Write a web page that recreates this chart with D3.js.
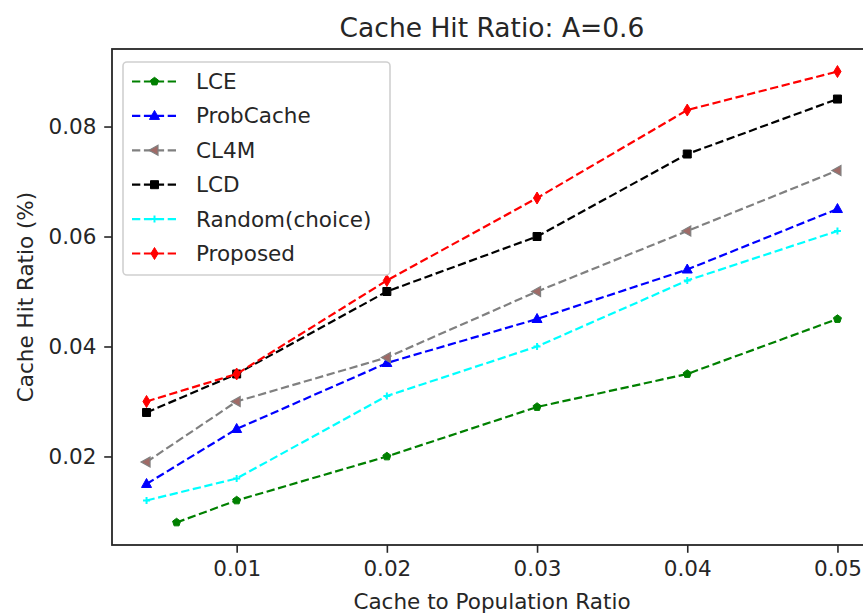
<!DOCTYPE html>
<html>
<head>
<meta charset="utf-8">
<script src="https://cdn.jsdelivr.net/npm/d3@7"></script>
<style>
  body { margin: 0; background: #fff; overflow: hidden; }
  text { font-family: "DejaVu Sans", sans-serif; fill: #262626; }
</style>
</head>
<body>
<div id="chart"></div>
<script>
// data
const xFull = [0.004, 0.01, 0.02, 0.03, 0.04, 0.05];
const xLCE = [0.006, 0.01, 0.02, 0.03, 0.04, 0.05];
const lce = [0.008, 0.012, 0.020, 0.029, 0.035, 0.045];
const probCache = [0.015, 0.025, 0.037, 0.045, 0.054, 0.065];
const cl4m = [0.019, 0.030, 0.038, 0.050, 0.061, 0.072];
const lcd = [0.028, 0.035, 0.050, 0.060, 0.075, 0.085];
const randomChoice = [0.012, 0.016, 0.031, 0.040, 0.052, 0.061];
const proposed = [0.030, 0.035, 0.052, 0.067, 0.083, 0.090];
const xTicks = [0.01, 0.02, 0.03, 0.04, 0.05];
const yTicks = [0.02, 0.04, 0.06, 0.08];

const series = [
  { name: "LCE", xs: xLCE, ys: lce, color: "#008000", marker: "pentagon" },
  { name: "ProbCache", xs: xFull, ys: probCache, color: "#0000ff", marker: "triUp" },
  { name: "CL4M", xs: xFull, ys: cl4m, color: "#808080", marker: "triLeft" },
  { name: "LCD", xs: xFull, ys: lcd, color: "#000000", marker: "square" },
  { name: "Random(choice)", xs: xFull, ys: randomChoice, color: "#00ffff", marker: "plus" },
  { name: "Proposed", xs: xFull, ys: proposed, color: "#ff0000", marker: "thinDiamond" }
];

const width = 863, height = 614;
const plot = { left: 112, right: 872, top: 49, bottom: 545 };

// matplotlib-like 5% margins
function padded(vals) {
  const [a, b] = d3.extent(vals);
  const p = (b - a) * 0.05;
  return [a - p, b + p];
}
const allX = series.flatMap(s => s.xs);
const allY = series.flatMap(s => s.ys);

const x = d3.scaleLinear().domain(padded(allX)).range([plot.left, plot.right]);
const y = d3.scaleLinear().domain(padded(allY)).range([plot.bottom, plot.top]);

const svg = d3.select("#chart").append("svg")
  .attr("width", width)
  .attr("height", height);

// marker shapes
function markerPath(type) {
  const p = d3.path();
  if (type === "pentagon") {
    const r = 4.2;
    for (let i = 0; i < 5; i++) {
      const a = -Math.PI / 2 + i * 2 * Math.PI / 5;
      i === 0 ? p.moveTo(r * Math.cos(a), r * Math.sin(a)) : p.lineTo(r * Math.cos(a), r * Math.sin(a));
    }
    p.closePath();
  } else if (type === "triUp") {
    p.moveTo(0, -5.5); p.lineTo(5, 3.5); p.lineTo(-5, 3.5); p.closePath();
  } else if (type === "triLeft") {
    p.moveTo(-5.5, 0); p.lineTo(3.5, -5); p.lineTo(3.5, 5); p.closePath();
  } else if (type === "square") {
    p.rect(-4, -4, 8, 8);
  } else if (type === "thinDiamond") {
    p.moveTo(0, -6); p.lineTo(3.6, 0); p.lineTo(0, 6); p.lineTo(-3.6, 0); p.closePath();
  } else if (type === "plus") {
    p.moveTo(-3.5, 0); p.lineTo(3.5, 0); p.moveTo(0, -3.5); p.lineTo(0, 3.5);
  }
  return p.toString();
}

function drawMarker(g, s, cx, cy) {
  const m = g.append("path")
    .attr("d", markerPath(s.marker))
    .attr("transform", `translate(${cx},${cy})`);
  if (s.marker === "plus") {
    m.attr("fill", "none").attr("stroke", s.color).attr("stroke-width", 2);
  } else if (s.marker === "triLeft") {
    m.attr("fill", "#a06a66").attr("stroke", s.color).attr("stroke-width", 1.2);
  } else {
    m.attr("fill", s.color).attr("stroke", s.color).attr("stroke-width", 1);
  }
}

// series
const line = d3.line().x(d => x(d[0])).y(d => y(d[1]));
const plotG = svg.append("g");
series.forEach(s => {
  const pts = s.xs.map((v, i) => [v, s.ys[i]]);
  plotG.append("path")
    .datum(pts)
    .attr("d", line)
    .attr("fill", "none")
    .attr("stroke", s.color)
    .attr("stroke-width", 2.2)
    .attr("stroke-dasharray", "8.3,3.6");
  pts.forEach(d => drawMarker(plotG, s, x(d[0]), y(d[1])));
});

// axes
const xAxis = svg.append("g")
  .attr("transform", `translate(0,${plot.bottom})`)
  .call(d3.axisBottom(x).tickValues(xTicks).tickFormat(d3.format(".2f")).tickSizeInner(7.8).tickSizeOuter(0).tickPadding(7.8));
const yAxis = svg.append("g")
  .attr("transform", `translate(${plot.left},0)`)
  .call(d3.axisLeft(y).tickValues(yTicks).tickFormat(d3.format(".2f")).tickSizeInner(7.8).tickSizeOuter(0).tickPadding(7.8));

[xAxis, yAxis].forEach(ax => {
  ax.select(".domain").remove();
  ax.selectAll(".tick line").attr("stroke", "#262626").attr("stroke-width", 1.6);
  ax.selectAll(".tick text")
    .attr("font-family", "DejaVu Sans, sans-serif")
    .attr("font-size", 21.5)
    .attr("fill", "#262626");
});

// spines
svg.append("rect")
  .attr("x", plot.left).attr("y", plot.top)
  .attr("width", plot.right - plot.left).attr("height", plot.bottom - plot.top)
  .attr("fill", "none").attr("stroke", "#262626").attr("stroke-width", 1.8);

// titles
svg.append("text")
  .attr("x", (plot.left + plot.right) / 2).attr("y", 37)
  .attr("text-anchor", "middle").attr("font-size", 26.5)
  .text("Cache Hit Ratio: A=0.6");
svg.append("text")
  .attr("x", (plot.left + plot.right) / 2).attr("y", 609)
  .attr("text-anchor", "middle").attr("font-size", 21.5)
  .text("Cache to Population Ratio");
svg.append("text")
  .attr("transform", `translate(33,${(plot.top + plot.bottom) / 2}) rotate(-90)`)
  .attr("text-anchor", "middle").attr("font-size", 21.5)
  .text("Cache Hit Ratio (%)");

// legend
const legend = svg.append("g");
legend.append("rect")
  .attr("x", 123).attr("y", 62).attr("width", 267).attr("height", 213).attr("rx", 4)
  .attr("fill", "#fff").attr("fill-opacity", 0.8)
  .attr("stroke", "#d0d0d0").attr("stroke-width", 1.6);
series.forEach((s, i) => {
  const ly = 81.5 + i * 34.4;
  legend.append("line")
    .attr("x1", 132).attr("x2", 177).attr("y1", ly).attr("y2", ly)
    .attr("stroke", s.color).attr("stroke-width", 2.2)
    .attr("stroke-dasharray", "8.3,3.6");
  drawMarker(legend, s, 154.5, ly);
  legend.append("text")
    .attr("x", 196).attr("y", ly)
    .attr("dominant-baseline", "central")
    .attr("font-size", 21.5)
    .text(s.name);
});
</script>
</body>
</html>
